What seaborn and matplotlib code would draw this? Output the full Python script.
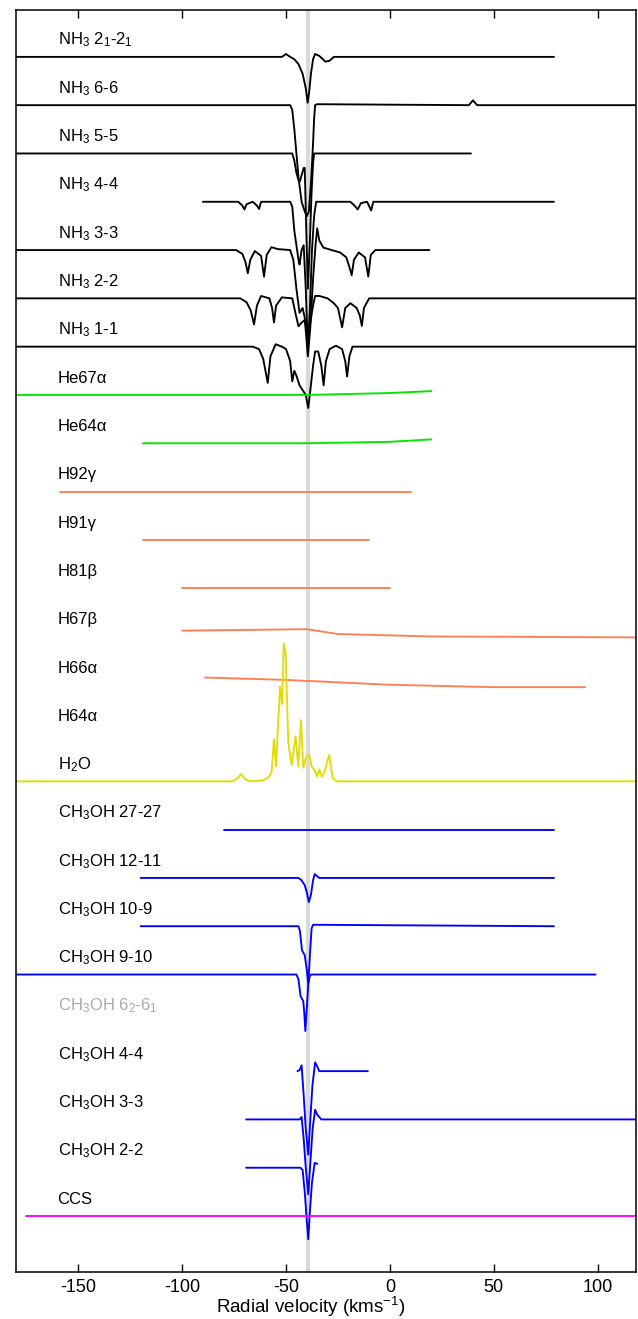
import numpy as np
import pandas as pd
import matplotlib
matplotlib.use("Agg")
import matplotlib.pyplot as plt
import seaborn as sns

# ---------------- data ----------------
labels = [r"NH$_3$ 2$_1$-2$_1$", r"NH$_3$ 6-6", r"NH$_3$ 5-5", r"NH$_3$ 4-4",
          r"NH$_3$ 3-3", r"NH$_3$ 2-2", r"NH$_3$ 1-1", "He67α", "He64α",
          "H92γ", "H91γ", "H81β", "H67β", "H66α", "H64α", r"H$_2$O",
          r"CH$_3$OH 27-27", r"CH$_3$OH 12-11", r"CH$_3$OH 10-9", r"CH$_3$OH 9-10",
          r"CH$_3$OH 6$_2$-6$_1$", r"CH$_3$OH 4-4", r"CH$_3$OH 3-3", r"CH$_3$OH 2-2", "CCS"]

label_colors = ["black"] * 20 + ["#aaaaaa"] + ["black"] * 4

# spectra: velocity (km/s) and intensity (in units of row spacing)
nh3_21_v = [-180, -52, -50, -48, -46, -44, -42, -40.5, -39.6, -38.8, -38, -37, -36, -34, -31, -29, -27, 79]
nh3_21_i = [0, 0, 0.06, 0, -0.05, -0.15, -0.35, -0.65, -0.95, -0.7, -0.35, -0.05, 0.06, 0.02, -0.1, -0.08, 0, 0]

nh3_66_v = [-180, -48, -47, -46, -45, -44, -42.5, -41, -40, -39, -38, -37, -36.5, -36, -35, 38, 40, 42, 120]
nh3_66_i = [0, 0, -0.1, -0.5, -1.0, -1.5, -2.0, -2.2, -2.3, -2.2, -1.6, -0.8, -0.3, 0.0, 0.02, 0, 0.1, 0, 0]

nh3_55_v = [-180, -47, -46, -45, -44, -43.3, -42.5, -41.5, -41, -40.3, -39.5, -38.5, -37.7, -37, -36.5, 39]
nh3_55_i = [0, 0, -0.15, -0.4, -0.55, -0.58, -0.45, -0.3, -0.3, -1.5, -2.8, -1.8, -0.8, -0.2, 0, 0]

nh3_44_v = [-90, -73, -71, -70, -69, -66, -64, -63, -62, -48, -47, -46, -44, -43.5, -42.5, -41.5,
            -40.5, -39.5, -38.5, -37.5, -36.5, -35.5, -19, -17, -15.5, -14, -11, -9, -8, 79]
nh3_44_i = [0, 0, -0.08, -0.16, -0.05, 0, -0.08, -0.15, 0, 0, -0.1, -0.6, -1.2, -1.3, -1.0, -0.9,
            -1.8, -3.0, -2.2, -1.0, -0.3, 0, 0, -0.08, -0.16, -0.03, 0, -0.18, 0, 0]

nh3_33_v = [-180, -74, -71, -69.5, -68.4, -67.2, -65, -62, -60.6, -59.3, -57, -54, -48, -46.5, -45,
            -43.5, -42, -41, -39.5, -38.3, -37, -35.8, -35, -34, -32, -28, -24, -21, -19.5, -18.4,
            -17.3, -15, -12, -10.4, -9.2, -7, 19]
nh3_33_i = [0, 0, -0.08, -0.25, -0.48, -0.2, -0.02, -0.12, -0.55, -0.1, 0.06, 0.02, 0, -0.2, -0.8,
            -1.3, -1.2, -1.4, -2.2, -1.6, -0.6, 0.1, 0.45, 0.2, 0.05, 0, -0.05, -0.15, -0.35, -0.52,
            -0.2, -0.05, -0.15, -0.55, -0.1, 0, 0]

nh3_22_v = [-180, -72, -69, -67, -65.4, -64, -62, -58, -56.7, -55.8, -54.8, -52, -47, -45.5, -44,
            -42.5, -41, -39.6, -38.3, -37, -36, -34, -30, -27, -25, -23, -21.5, -19, -16, -14.5,
            -13.5, -12.5, -10, 120]
nh3_22_i = [0, 0, -0.08, -0.25, -0.54, -0.15, 0.05, 0, -0.2, -0.5, -0.15, 0.02, 0, -0.3, -0.58,
            -0.5, -0.45, -0.82, -0.5, -0.15, 0.05, 0.05, 0, -0.1, -0.2, -0.6, -0.2, -0.1, -0.2,
            -0.35, -0.57, -0.2, 0, 0]

nh3_11_v = [-180, -66, -63, -61, -58.8, -57.5, -55, -52, -50, -48, -47, -46, -45, -43.5, -42, -40.5,
            -39.3, -38.3, -37, -36, -34.5, -33, -31.9, -30.8, -29, -26, -23, -21.5, -20.6, -19.5,
            -18, 120]
nh3_11_i = [0, 0, -0.05, -0.25, -0.75, -0.2, 0.05, 0, -0.05, -0.3, -0.72, -0.5, -0.6, -0.8, -0.9,
            -1.0, -1.27, -0.9, -0.4, -0.1, -0.1, -0.4, -0.8, -0.3, -0.05, 0.02, -0.05, -0.3, -0.62,
            -0.2, 0, 0]

he67_v = [-180, -100, -40, 0, 20]
he67_i = [0, 0, 0, 0.04, 0.08]

he64_v = [-119, -60, -40, 0, 20]
he64_i = [0, 0, 0, 0.03, 0.08]

h92_v = [-159, 10]
h92_i = [0, 0]

h91_v = [-119, -10]
h91_i = [0, 0]

h81_v = [-100, 0]
h81_i = [0, 0]

h67b_v = [-100, -40, -25, 20, 120]
h67b_i = [0.12, 0.15, 0.05, 0.0, -0.02]

h66_v = [-89, -50, 0, 50, 94]
h66_i = [0.15, 0.1, 0.0, -0.05, -0.05]

h2o_v = [-180, -76, -74, -71.6, -69.5, -67, -61, -58, -56.9, -55.8, -54.8, -52.9, -51.9, -51.1,
         -50.2, -48.9, -47.3, -45.4, -44.1, -42.8, -41.7, -40.5, -38.9, -37.6, -36.5, -35, -34,
         -32.8, -31.5, -29.2, -27.6, -25.5, 120]
h2o_i = [0, 0, 0.04, 0.15, 0.04, 0, 0.02, 0.1, 0.2, 0.87, 0.31, 1.96, 1.6, 2.85, 2.66, 0.8, 0.34,
         0.93, 0.31, 1.27, 0.28, 0.48, 0.55, 0.3, 0.25, 0.1, 0.25, 0.1, 0.2, 0.55, 0.07, 0.0, 0]

m2727_v = [-80, 79]
m2727_i = [0, 0]

m1211_v = [-120, -44, -42.5, -41, -40, -39, -38, -37, -36.2, -34, 79]
m1211_i = [0, 0, -0.05, -0.15, -0.3, -0.5, -0.35, -0.05, 0.08, 0, 0]

m109_v = [-120, -44, -43.3, -42.3, -41, -40, -39.3, -38.5, -37.7, -37, 79]
m109_i = [0, 0, -0.1, -0.5, -0.6, -0.9, -1.2, -0.6, -0.05, 0.03, 0]

m910_v = [-180, -45, -44, -43, -41.7, -41.2, -40.7, -40, -39.3, -38.7, -38, -36, 99]
m910_i = [0, 0, -0.1, -0.45, -0.55, -0.8, -1.17, -0.7, -0.2, -0.05, 0, 0, 0]

m44_v = [-44.5, -43.5, -42.5, -41.5, -40.5, -39.3, -38.3, -37.3, -36, -35, -34, -10.6]
m44_i = [0.0, 0.02, 0.12, -0.5, -1.2, -1.73, -1.0, -0.3, 0.18, 0.1, 0, 0]

m33_v = [-69.2, -43.5, -42.5, -41.5, -40.5, -39.3, -38.3, -37.2, -36, -35, -33, 120]
m33_i = [0, 0, 0.05, -0.4, -1.0, -1.55, -0.9, -0.2, 0.2, 0.1, 0, 0]

m22_v = [-69.2, -43, -42, -41, -40, -39.3, -38.5, -37.5, -36.2, -34.9]
m22_i = [0, 0, -0.05, -0.5, -1.1, -1.48, -0.9, -0.3, 0.1, 0.08]

ccs_v = [-175, 120]
ccs_i = [0, 0]

spectra = [
    (0, nh3_21_v, nh3_21_i, "k"), (1, nh3_66_v, nh3_66_i, "k"), (2, nh3_55_v, nh3_55_i, "k"),
    (3, nh3_44_v, nh3_44_i, "k"), (4, nh3_33_v, nh3_33_i, "k"), (5, nh3_22_v, nh3_22_i, "k"),
    (6, nh3_11_v, nh3_11_i, "k"), (7, he67_v, he67_i, "g"), (8, he64_v, he64_i, "g"),
    (9, h92_v, h92_i, "o"), (10, h91_v, h91_i, "o"), (11, h81_v, h81_i, "o"),
    (12, h67b_v, h67b_i, "o"), (13, h66_v, h66_i, "o"), (15, h2o_v, h2o_i, "y"),
    (16, m2727_v, m2727_i, "b"), (17, m1211_v, m1211_i, "b"), (18, m109_v, m109_i, "b"),
    (19, m910_v, m910_i, "b"), (21, m44_v, m44_i, "b"), (22, m33_v, m33_i, "b"),
    (23, m22_v, m22_i, "b"), (24, ccs_v, ccs_i, "m"),
]

palette_map = {"k": "#000000", "g": "#00e600", "o": "#ff7f50", "y": "#e2dc00",
               "b": "#0000ff", "m": "#ff00ff"}

v_sys = -39.6

# ---------------- build frame ----------------
rows = []
for row, vs, ii, c in spectra:
    for k, (v, inten) in enumerate(zip(vs, ii)):
        rows.append({"spec": f"s{row:02d}", "row": row, "v": v, "y": inten - row, "col": c, "k": k})
df = pd.DataFrame(rows)
pal = {f"s{row:02d}": palette_map[c] for row, _, _, c in spectra}

# ---------------- plot ----------------
sns.set_theme(style="white")
plt.rcParams["font.family"] = ["Liberation Sans", "DejaVu Sans"]
plt.rcParams["mathtext.default"] = "regular"
plt.rcParams["axes.unicode_minus"] = False

fig = plt.figure(figsize=(6.38, 13.19), dpi=100)
ax = fig.add_axes([0.025, 0.0356, 0.972, 0.9568])

ax.axvline(v_sys, color="#d9d9d9", lw=3.0, zorder=0)

sns.lineplot(data=df, x="v", y="y", hue="spec", palette=pal, units="spec", estimator=None,
             sort=False, legend=False, linewidth=1.35, ax=ax, zorder=2)

for i, (lab, lc) in enumerate(zip(labels, label_colors)):
    ax.text(-160, -i + 0.25, lab, color=lc, fontsize=12, va="baseline", ha="left")

ax.set_xlim(-180, 118.5)
ax.set_ylim(-25.16, 0.97)
ax.set_yticks([])
ax.set_xticks([-150, -100, -50, 0, 50, 100])
ax.tick_params(axis="x", direction="in", top=True, bottom=True, length=6, width=1,
               labelsize=13, colors="black", labelcolor="black", pad=5)
ax.set_xlabel(r"Radial velocity (kms$^{-1}$)", fontsize=13.5, color="black")
ax.xaxis.set_label_coords(0.476, -0.0185, transform=ax.transAxes)
ax.xaxis.label.set_va("top")
ax.set_ylabel("")
for s in ax.spines.values():
    s.set_visible(True)
    s.set_color("black")
    s.set_linewidth(1.1)

fig.savefig("out.png", dpi=100)
